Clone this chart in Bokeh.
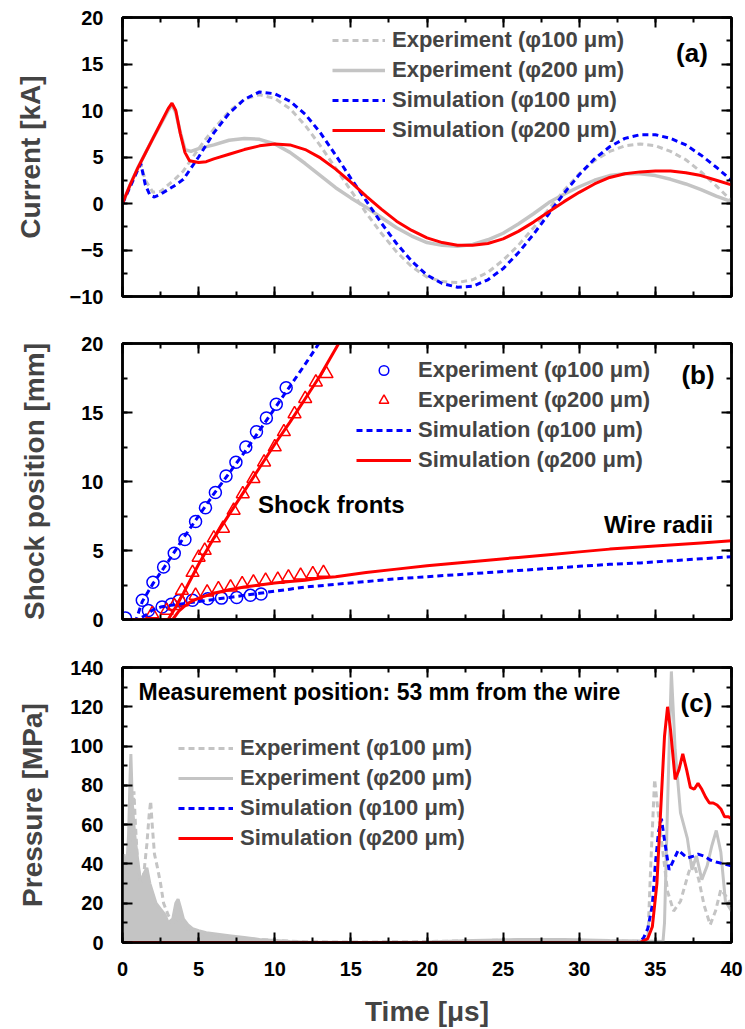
from bokeh.plotting import figure
from bokeh.models import (Range1d, LinearAxis, SingleIntervalTicker, Legend,
                          LegendItem, Label, ColumnDataSource)
from bokeh.layouts import column
from bokeh.embed import file_html
from bokeh.resources import INLINE

# ---------------- data: panel (a) current ----------------
a_exp100_t = [0, 0.5, 1, 1.2, 1.5, 2, 2.5, 3, 3.5, 4, 4.5, 5, 5.5, 6, 7, 8, 9, 10, 11, 12, 13, 14, 15, 16, 17,
              18, 19, 20, 21, 22, 23, 24, 25, 26, 27, 28, 29, 30, 31, 32, 33, 34, 35, 36, 37, 38, 39, 40]
a_exp100_i = [0, 1.8, 3.6, 4.2, 2.5, 1.2, 1.3, 2.0, 2.7, 3.5, 4.7, 5.9, 7.0, 8.0, 9.9, 11.2, 11.7, 11.3, 10.2,
              8.4, 6.2, 3.8, 1.4, -1.0, -3.2, -5.2, -6.8, -7.9, -8.4, -8.5, -8.2, -7.4, -6.1, -4.5, -2.6, -0.6,
              1.4, 3.2, 4.6, 5.6, 6.2, 6.4, 6.2, 5.6, 4.7, 3.4, 1.9, 0.3]
a_exp200_t = [0, 0.5, 1, 1.5, 2, 2.5, 3, 3.25, 3.5, 3.8, 4.1, 4.5, 5, 6, 7, 8, 9, 10, 11, 12, 13, 14, 15, 16,
              17, 18, 19, 20, 21, 22, 23, 24, 25, 26, 27, 28, 29, 30, 31, 32, 33, 34, 35, 36, 37, 38, 39, 40]
a_exp200_i = [0, 2.0, 3.8, 5.4, 7.0, 8.5, 10.0, 10.6, 9.8, 7.6, 5.8, 5.6, 5.9, 6.3, 6.8, 7.0, 6.9, 6.4, 5.5,
              4.3, 3.0, 1.7, 0.6, -0.4, -1.5, -2.6, -3.5, -4.2, -4.5, -4.6, -4.4, -3.9, -3.2, -2.2, -1.1, 0.1,
              1.0, 1.8, 2.5, 3.0, 3.2, 3.2, 3.0, 2.6, 2.1, 1.5, 0.8, 0.2]
a_sim100_t = [0, 0.5, 1, 1.2, 1.5, 1.8, 2.1, 2.5, 3, 3.5, 4, 4.5, 5, 5.5, 6, 7, 8, 9, 10, 11, 12, 13, 14, 15,
              16, 17, 18, 19, 20, 21, 22, 23, 24, 25, 26, 27, 28, 29, 30, 31, 32, 33, 34, 35, 36, 37, 38, 39, 40]
a_sim100_i = [0, 1.8, 3.6, 4.3, 2.0, 0.9, 0.7, 1.0, 1.5, 2.0, 2.6, 3.8, 5.0, 6.3, 7.6, 9.7, 11.2, 12.0, 11.8,
              11.0, 9.6, 7.6, 5.2, 2.7, 0.3, -2.1, -4.3, -6.2, -7.7, -8.6, -9.0, -8.9, -8.2, -7.0, -5.3, -3.3,
              -1.1, 1.1, 3.1, 4.8, 6.1, 7.0, 7.4, 7.4, 7.0, 6.3, 5.2, 3.9, 2.5]
a_sim200_t = [0, 0.5, 1, 1.5, 2, 2.5, 3, 3.25, 3.5, 3.8, 4.1, 4.4, 5, 5.5, 6, 7, 8, 9, 10, 11, 12, 13, 14, 15,
              16, 17, 18, 19, 20, 21, 22, 23, 24, 25, 26, 27, 28, 29, 30, 31, 32, 33, 34, 35, 36, 37, 38, 39, 40]
a_sim200_i = [0, 2.0, 3.8, 5.4, 7.0, 8.6, 10.2, 10.8, 10.0, 7.5, 5.5, 4.6, 4.4, 4.5, 4.8, 5.3, 5.8, 6.2, 6.4,
              6.3, 5.8, 4.9, 3.7, 2.3, 0.8, -0.6, -1.9, -2.9, -3.7, -4.2, -4.5, -4.5, -4.3, -3.8, -3.0, -2.0,
              -0.9, 0.2, 1.2, 2.1, 2.8, 3.2, 3.4, 3.5, 3.5, 3.3, 3.0, 2.5, 2.0]

# ---------------- data: panel (b) shock position ----------------
b_exp100_t = [0.2, 1.3, 2.0, 2.7, 3.4, 4.1, 4.8, 5.45, 6.1, 6.8, 7.45, 8.1, 8.8, 9.45, 10.1, 10.75,
              1.7, 2.6, 3.2, 3.7, 4.6, 5.6, 6.5, 7.5, 8.4, 9.1]
b_exp100_s = [0.1, 1.4, 2.7, 3.8, 4.8, 5.8, 7.1, 8.1, 9.2, 10.4, 11.4, 12.5, 13.6, 14.6, 15.6, 16.8,
              0.65, 0.9, 1.1, 1.35, 1.4, 1.5, 1.55, 1.6, 1.75, 1.85]
b_exp200_t = [1.95, 2.9, 3.4, 3.9, 4.6, 5.0, 5.4, 6.0, 6.6, 7.3, 7.9, 8.6, 9.3, 10.0, 10.6, 11.3, 12.0, 12.7, 13.4,
              3.9, 4.8, 5.56, 6.3, 7.1, 7.86, 8.6, 9.4, 10.2, 10.9, 11.7, 12.5, 13.2]
b_exp200_s = [0.4, 0.65, 1.0, 2.1, 3.4, 4.5, 5.0, 5.9, 6.6, 7.9, 9.1, 10.2, 11.4, 12.5, 13.6, 14.9, 16.0, 17.2, 17.8,
              1.26, 1.74, 1.98, 2.22, 2.34, 2.58, 2.7, 2.83, 2.9, 3.07, 3.2, 3.3, 3.4]
b_sim100_front_t = [0, 0.9, 1.3, 2, 3, 4, 5, 6, 7, 8, 9, 10, 11, 12, 12.9]
b_sim100_front_s = [0, 0, 1.3, 2.6, 4.2, 5.9, 7.5, 9.1, 10.6, 12.1, 13.7, 15.3, 16.9, 18.5, 20]
b_sim100_wire_t = [0, 1.0, 1.5, 2, 2.5, 3, 4, 5, 6, 7, 8, 9, 10, 11, 12, 13, 14, 16, 18, 20, 22, 24, 26, 28, 30,
                   32, 34, 36, 38, 40]
b_sim100_wire_s = [0, 0, 0.3, 0.7, 0.9, 1.0, 1.15, 1.3, 1.45, 1.6, 1.75, 1.9, 2.05, 2.2, 2.35, 2.45, 2.55, 2.75,
                   2.95, 3.1, 3.25, 3.4, 3.55, 3.7, 3.85, 4.0, 4.1, 4.25, 4.4, 4.55]
b_sim200_front_t = [0, 3.0, 3.5, 4, 5, 6, 7, 8, 9, 10, 11, 12, 13, 14.2]
b_sim200_front_s = [0, 0, 0.9, 1.9, 4.0, 5.9, 7.6, 9.3, 11.0, 12.7, 14.3, 16.0, 17.7, 20]
b_sim200_wire_t = [0, 3.3, 3.7, 4, 4.5, 5, 6, 7, 8, 9, 10, 11, 12, 13, 14, 16, 18, 20, 22, 24, 26, 28, 30, 32,
                   34, 36, 38, 40]
b_sim200_wire_s = [0, 0, 0.6, 0.9, 1.3, 1.55, 1.9, 2.15, 2.35, 2.5, 2.65, 2.75, 2.85, 3.0, 3.1, 3.4, 3.65, 3.9,
                   4.1, 4.3, 4.5, 4.7, 4.9, 5.1, 5.25, 5.4, 5.55, 5.7]

# ---------------- data: panel (c) pressure ----------------
c_exp100_t = [0, 0.3, 0.5, 0.65, 0.75, 0.85, 1.0, 1.2, 1.4, 1.6, 1.75, 1.85, 1.95, 2.1, 2.3, 2.5, 2.7, 3.0, 3.3,
              3.6, 4.0, 4.5, 5, 6, 8, 10, 12, 15, 20, 25, 30, 33, 34.5, 34.7, 34.95, 35.2, 35.45, 35.8, 36.2,
              36.65, 37.2, 37.5, 37.85, 38.2, 38.6, 38.95, 39.3, 39.6, 40]
c_exp100_p = [15, 30, 50, 65, 77, 60, 40, 30, 35, 50, 65, 72, 60, 45, 38, 30, 20, 14, 10, 12, 8, 6, 4, 3, 2, 1,
              0.4, 0.2, 0.5, 1.2, 1.0, 0.7, 0.5, 40, 83, 65, 49, 26, 16, 21, 36, 41, 32, 19, 9, 16, 27, 24, 19]
c_exp200_t = [0, 0.1, 0.25, 0.4, 0.5, 0.55, 0.65, 0.8, 1.0, 1.2, 1.4, 1.6, 1.8, 2.0, 2.2, 2.5, 2.8, 3.0, 3.3,
              3.5, 3.65, 3.8, 4.0, 4.3, 4.6, 5.0, 5.5, 6, 7, 8, 9, 10, 11, 12, 15, 20, 23, 26, 29, 32, 35, 35.5,
              35.6, 35.8, 36.05, 36.3, 36.65, 37.1, 37.4, 37.7, 38.05, 38.4, 38.7, 39.0, 39.3, 39.6, 40]
c_exp200_p = [40, 45, 35, 55, 85, 96, 70, 55, 42, 30, 35, 38, 30, 25, 20, 17, 14, 10, 12, 20, 22, 18, 12, 9, 7,
              6, 5, 4.5, 3.5, 2.5, 1.5, 1.0, 0.5, 0.2, 0, 0.3, 1, 1.5, 1.5, 1.0, 0.6, 0.5, 10, 70, 138, 98, 66,
              53, 37, 44, 32, 39, 49, 57, 46, 21, 16]
c_sim100_t = [0, 33.8, 34.2, 34.5, 34.8, 35.0, 35.2, 35.4, 35.6, 35.9, 36.2, 36.5, 36.8, 37.1, 37.5, 37.8, 38.2,
              38.6, 39.0, 39.5, 40]
c_sim100_p = [0, 0, 2, 7, 19, 40, 56, 63, 52, 37, 42, 47, 45, 43, 44, 45, 44, 42, 41, 40, 39]
c_sim200_t = [0, 34.0, 34.5, 34.8, 35.1, 35.4, 35.6, 35.8, 36.0, 36.3, 36.55, 36.8, 37.05, 37.3, 37.55, 37.8,
              38.05, 38.3, 38.55, 38.8, 39.05, 39.3, 39.55, 39.8, 40]
c_sim200_p = [0, 0, 2, 8, 30, 75, 105, 120, 108, 83, 88, 96, 88, 79, 78, 81, 78, 74, 71, 71, 70, 68, 64, 64, 63]
noise_end = 12  # experimental noise band drawn as filled area up to this time

legend_labels = ["Experiment (\u03c6100 \u03bcm)", "Experiment (\u03c6200 \u03bcm)",
                 "Simulation (\u03c6100 \u03bcm)", "Simulation (\u03c6200 \u03bcm)"]

FONT = "Liberation Sans"
GRAY = "#C4C4C4"
BLUE = "#0000FF"
RED = "#FF0000"


def style_axis(ax, show_labels):
    ax.axis_line_width = 2.5
    ax.axis_line_color = "black"
    ax.major_tick_in = 10
    ax.major_tick_out = 0
    ax.minor_tick_in = 5
    ax.minor_tick_out = 0
    ax.major_tick_line_width = 2
    ax.minor_tick_line_width = 2
    ax.major_tick_line_color = "black"
    ax.minor_tick_line_color = "black"
    ax.major_label_text_font = FONT
    ax.major_label_text_font_style = "bold"
    if show_labels:
        ax.major_label_text_color = "black"
        ax.major_label_text_font_size = "20px"
    else:
        ax.major_label_text_color = None
        ax.major_label_text_font_size = "0px"


def make_fig(height, top, bottom, y0, y1, yint, ylabel, ystand, xlabels):
    p = figure(width=745, height=height, x_range=Range1d(0, 40), y_range=Range1d(y0, y1),
               output_backend="svg", toolbar_location=None,
               min_border_left=122, min_border_right=14, min_border_top=top, min_border_bottom=bottom)
    p.xgrid.visible = False
    p.ygrid.visible = False
    p.outline_line_color = "black"
    p.outline_line_width = 2.5
    p.background_fill_color = "white"
    p.border_fill_color = "white"
    bottom_ax = p.below[0]
    left_ax = p.left[0]
    bottom_ax.ticker = SingleIntervalTicker(interval=5, num_minor_ticks=2)
    left_ax.ticker = SingleIntervalTicker(interval=yint, num_minor_ticks=2)
    style_axis(bottom_ax, xlabels)
    style_axis(left_ax, True)
    bottom_ax.major_label_standoff = 19
    left_ax.major_label_standoff = 19
    left_ax.axis_label = ylabel
    left_ax.axis_label_text_font = FONT
    left_ax.axis_label_text_font_style = "bold"
    left_ax.axis_label_text_font_size = "28px"
    left_ax.axis_label_standoff = ystand
    top_ax = LinearAxis(ticker=SingleIntervalTicker(interval=5, num_minor_ticks=2))
    right_ax = LinearAxis(ticker=SingleIntervalTicker(interval=yint, num_minor_ticks=2))
    style_axis(top_ax, False)
    style_axis(right_ax, False)
    p.add_layout(top_ax, "above")
    p.add_layout(right_ax, "right")
    return p


def add_label(p, x, y, text, size, align="center"):
    p.add_layout(Label(x=x, y=y, text=text, text_font=FONT, text_font_style="bold",
                       text_font_size=size, text_align=align, text_baseline="middle",
                       text_color="black"))


def add_legend(p, items, x, y, glyph_w):
    leg = Legend(items=items, location=(x, y), border_line_color=None, background_fill_alpha=0,
                 padding=0, margin=0, spacing=4, glyph_width=glyph_w, glyph_height=24,
                 label_height=24, label_standoff=7, label_text_font=FONT,
                 label_text_font_style="bold", label_text_font_size="22px")
    p.add_layout(leg)


# ---------------- panel (a) ----------------
pa = make_fig(320, 17, 24, -10, 20, 5, "Current [kA]", 21, False)
ra1 = pa.line(a_exp100_t, a_exp100_i, line_color=GRAY, line_width=3, line_dash="6 4")
ra2 = pa.line(a_exp200_t, a_exp200_i, line_color=GRAY, line_width=3.5)
ra3 = pa.line(a_sim100_t, a_sim100_i, line_color=BLUE, line_width=3, line_dash="6 4")
ra4 = pa.line(a_sim200_t, a_sim200_i, line_color=RED, line_width=3)
add_legend(pa, [LegendItem(label=legend_labels[0], renderers=[ra1]),
                LegendItem(label=legend_labels[1], renderers=[ra2]),
                LegendItem(label=legend_labels[2], renderers=[ra3]),
                LegendItem(label=legend_labels[3], renderers=[ra4])], 210, 153, 53)
add_label(pa, 37.4, 16.2, "(a)", "26px")

# ---------------- panel (b) ----------------
pb = make_fig(323, 23, 24, 0, 20, 5, "Shock position [mm]", 28, False)
rb1 = pb.scatter(b_exp100_t, b_exp100_s, marker="circle", size=12, fill_color=None,
                 line_color=BLUE, line_width=1.5)
rb2 = pb.scatter(b_exp200_t, b_exp200_s, marker="triangle", size=13, fill_color=None,
                 line_color=RED, line_width=1.5)
rb3 = pb.line(b_sim100_front_t, b_sim100_front_s, line_color=BLUE, line_width=3, line_dash="6 4")
pb.line(b_sim100_wire_t, b_sim100_wire_s, line_color=BLUE, line_width=3, line_dash="6 4")
rb4 = pb.line(b_sim200_front_t, b_sim200_front_s, line_color=RED, line_width=3)
pb.line(b_sim200_wire_t, b_sim200_wire_s, line_color=RED, line_width=3)
add_legend(pb, [LegendItem(label=legend_labels[0], renderers=[rb1]),
                LegendItem(label=legend_labels[1], renderers=[rb2]),
                LegendItem(label=legend_labels[2], renderers=[rb3]),
                LegendItem(label=legend_labels[3], renderers=[rb4])], 234, 146, 55)
add_label(pb, 37.8, 17.7, "(b)", "26px")
add_label(pb, 8.9, 8.3, "Shock fronts", "24px", "left")
add_label(pb, 38.8, 6.9, "Wire radii", "24px", "right")

# ---------------- panel (c) ----------------
pc = make_fig(386, 24, 85, 0, 140, 20, "Pressure [MPa]", 19, True)
xb = pc.below[0]
xb.axis_label = "Time [\u03bcs]"
xb.axis_label_text_font = FONT
xb.axis_label_text_font_style = "bold"
xb.axis_label_text_font_size = "28px"
xb.axis_label_standoff = 17
n_noise = sum(1 for t in c_exp200_t if t <= noise_end)
noise_src = ColumnDataSource(dict(t=c_exp200_t[:n_noise], p=c_exp200_p[:n_noise]))
pc.varea(x="t", y1=0, y2="p", source=noise_src, fill_color=GRAY)
rc2 = pc.line(c_exp200_t, c_exp200_p, line_color=GRAY, line_width=3)
rc1 = pc.line(c_exp100_t, c_exp100_p, line_color=GRAY, line_width=3, line_dash="6 4")
rc3 = pc.line(c_sim100_t, c_sim100_p, line_color=BLUE, line_width=3, line_dash="6 4")
rc4 = pc.line(c_sim200_t, c_sim200_p, line_color=RED, line_width=3)
add_legend(pc, [LegendItem(label=legend_labels[0], renderers=[rc1]),
                LegendItem(label=legend_labels[1], renderers=[rc2]),
                LegendItem(label=legend_labels[2], renderers=[rc3]),
                LegendItem(label=legend_labels[3], renderers=[rc4])], 56, 91, 55)
add_label(pc, 37.7, 121.8, "(c)", "26px")
add_label(pc, 1.05, 127.4, "Measurement position: 53 mm from the wire", "23px", "left")

layout = column(pa, pb, pc, spacing=0)
open("out.html", "w").write(file_html(layout, INLINE))
